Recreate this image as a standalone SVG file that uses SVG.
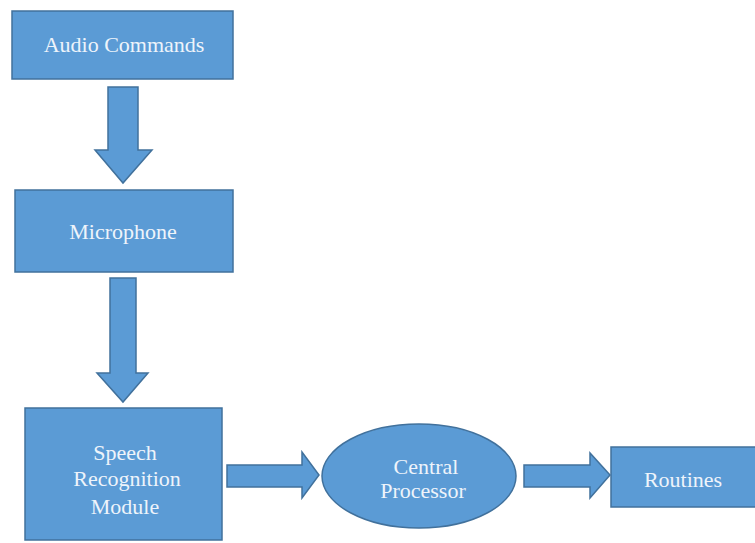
<svg xmlns="http://www.w3.org/2000/svg" width="755" height="543" viewBox="0 0 755 543">
<style>
.box{fill:#5b9bd5;stroke:#41719c;stroke-width:1.5}
.arr{fill:#5b9bd5;stroke:#41719c;stroke-width:1.5;stroke-linejoin:miter}
.t{font-family:'Liberation Serif','Times New Roman',Times,serif;font-size:22px;fill:#eef4fb;text-anchor:middle}
</style>
<rect width="755" height="543" fill="#ffffff"/>
<g id="connectors">
<path class="arr" d="M108,87 H138 V150 H152 L123,183 L95,150 H108 Z"/>
<path class="arr" d="M110,278 H136 V373 H148 L123,402 L97,373 H110 Z"/>
<path class="arr" d="M227,465 H302 V452 L319,475 L302,498 V487 H227 Z"/>
<path class="arr" d="M524,465 H590 V453 L610,475 L590,498 V487 H524 Z"/>
</g>
<g id="audio-commands">
<rect class="box" x="12" y="11" width="221" height="68"/>
<text class="t" x="124" y="52" font-family="Liberation Serif">Audio Commands</text>
</g>
<g id="microphone">
<rect class="box" x="15" y="190" width="218" height="82"/>
<text class="t" x="123" y="239">Microphone</text>
</g>
<g id="speech-recognition-module">
<rect class="box" x="25" y="408" width="197" height="132"/>
<text class="t" x="125" y="460">Speech</text>
<text class="t" x="127" y="486">Recognition</text>
<text class="t" x="125" y="514">Module</text>
</g>
<g id="central-processor">
<ellipse class="box" cx="419" cy="476" rx="97" ry="52"/>
<text class="t" x="426" y="474">Central</text>
<text class="t" x="423" y="498">Processor</text>
</g>
<g id="routines">
<rect class="box" x="611" y="447" width="146" height="60"/>
<text class="t" x="683" y="487">Routines</text>
</g>
</svg>
